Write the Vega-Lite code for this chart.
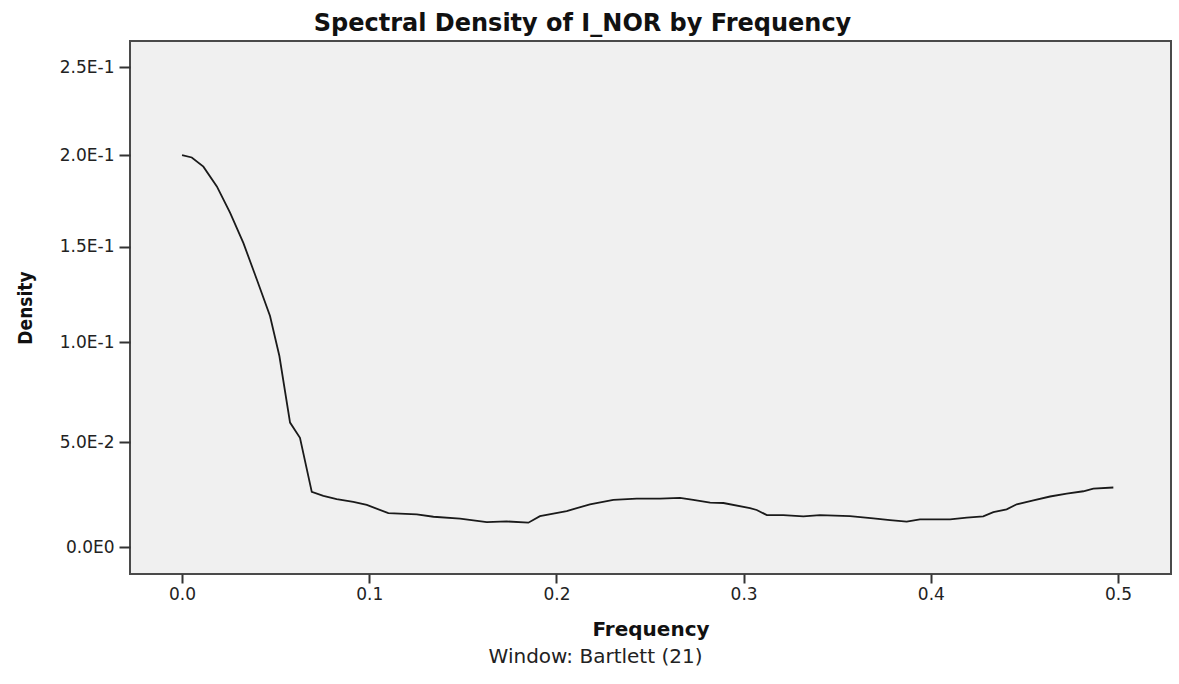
{
  "$schema": "https://vega.github.io/schema/vega-lite/v6.json",
  "width": 1041,
  "height": 533,
  "autosize": {"type": "none"},
  "padding": {"left": 130, "top": 41, "right": 8, "bottom": 110},
  "background": "white",
  "config": {
    "view": {"fill": "#f0f0f0", "stroke": "#4a4a4a", "strokeWidth": 2}
  },
  "title": {
    "text": "Window: Bartlett (21)",
    "orient": "bottom",
    "anchor": "middle",
    "font": "DejaVu Sans",
    "fontSize": 20,
    "fontWeight": "normal",
    "color": "#222222",
    "offset": 8,
    "dx": -55
  },
  "data": {
    "values": [
      {"frequency": 0.0000, "density": 0.2000},
      {"frequency": 0.0052, "density": 0.1987},
      {"frequency": 0.0114, "density": 0.1936},
      {"frequency": 0.0186, "density": 0.1827},
      {"frequency": 0.0257, "density": 0.1682},
      {"frequency": 0.0328, "density": 0.1519},
      {"frequency": 0.0399, "density": 0.1327},
      {"frequency": 0.0470, "density": 0.1135},
      {"frequency": 0.0520, "density": 0.0930},
      {"frequency": 0.0577, "density": 0.0597},
      {"frequency": 0.0630, "density": 0.0522},
      {"frequency": 0.0693, "density": 0.0261},
      {"frequency": 0.0755, "density": 0.0242},
      {"frequency": 0.0826, "density": 0.0226},
      {"frequency": 0.0915, "density": 0.0213},
      {"frequency": 0.0987, "density": 0.0199},
      {"frequency": 0.1102, "density": 0.0160},
      {"frequency": 0.1254, "density": 0.0154},
      {"frequency": 0.1343, "density": 0.0143},
      {"frequency": 0.1485, "density": 0.0134},
      {"frequency": 0.1628, "density": 0.0118},
      {"frequency": 0.1734, "density": 0.0121},
      {"frequency": 0.1850, "density": 0.0115},
      {"frequency": 0.1912, "density": 0.0146},
      {"frequency": 0.2055, "density": 0.0170},
      {"frequency": 0.2179, "density": 0.0202},
      {"frequency": 0.2304, "density": 0.0223},
      {"frequency": 0.2429, "density": 0.0229},
      {"frequency": 0.2553, "density": 0.0229},
      {"frequency": 0.2660, "density": 0.0232},
      {"frequency": 0.2731, "density": 0.0223},
      {"frequency": 0.2821, "density": 0.0210},
      {"frequency": 0.2892, "density": 0.0208},
      {"frequency": 0.3034, "density": 0.0184},
      {"frequency": 0.3070, "density": 0.0175},
      {"frequency": 0.3124, "density": 0.0151},
      {"frequency": 0.3212, "density": 0.0151},
      {"frequency": 0.3319, "density": 0.0145},
      {"frequency": 0.3408, "density": 0.0151},
      {"frequency": 0.3568, "density": 0.0146},
      {"frequency": 0.3693, "density": 0.0135},
      {"frequency": 0.3782, "density": 0.0127},
      {"frequency": 0.3871, "density": 0.0120},
      {"frequency": 0.3942, "density": 0.0131},
      {"frequency": 0.4103, "density": 0.0131},
      {"frequency": 0.4192, "density": 0.0139},
      {"frequency": 0.4280, "density": 0.0145},
      {"frequency": 0.4334, "density": 0.0165},
      {"frequency": 0.4405, "density": 0.0178},
      {"frequency": 0.4459, "density": 0.0202},
      {"frequency": 0.4548, "density": 0.0221},
      {"frequency": 0.4637, "density": 0.0239},
      {"frequency": 0.4726, "density": 0.0253},
      {"frequency": 0.4815, "density": 0.0264},
      {"frequency": 0.4868, "density": 0.0277},
      {"frequency": 0.4975, "density": 0.0282}
    ]
  },
  "layer": [
    {
      "mark": {"type": "line", "color": "#1a1a1a", "strokeWidth": 1.8},
      "encoding": {
        "x": {
          "field": "frequency",
          "type": "quantitative",
          "scale": {"domain": [-0.0278, 0.5283], "nice": false, "zero": false},
          "axis": {
            "orient": "bottom",
            "values": [0, 0.1, 0.2, 0.3, 0.4, 0.5],
            "format": ".1f",
            "domain": false,
            "grid": false,
            "tickSize": 9,
            "tickWidth": 2,
            "tickColor": "#333333",
            "labelPadding": 3,
            "labelFont": "DejaVu Sans",
            "labelFontSize": 17,
            "labelColor": "#222222",
            "title": "Frequency",
            "titleFont": "DejaVu Sans",
            "titleFontSize": 20,
            "titleFontWeight": "bold",
            "titleColor": "#111111",
            "titlePadding": 17
          }
        },
        "y": {
          "field": "density",
          "type": "quantitative",
          "scale": {"type": "symlog", "constant": 1, "domain": [-0.01249, 0.2654], "nice": false, "zero": false},
          "axis": {
            "values": [0, 0.05, 0.1, 0.15, 0.2, 0.25],
            "labelExpr": "datum.value == 0 ? '0.0E0' : replace(format(datum.value, '.1e'), 'e', 'E')",
            "domain": false,
            "grid": false,
            "tickSize": 11,
            "tickWidth": 2,
            "tickColor": "#333333",
            "labelPadding": 5,
            "labelFont": "DejaVu Sans",
            "labelFontSize": 17,
            "labelColor": "#222222",
            "title": "Density",
            "titleFont": "DejaVu Sans Condensed, DejaVu Sans",
            "titleFontSize": 19,
            "titleFontWeight": "bold",
            "titleColor": "#111111",
            "titlePadding": 24
          }
        }
      }
    },
    {
      "mark": {"type": "line", "opacity": 0},
      "encoding": {
        "x": {
          "field": "frequency",
          "type": "quantitative",
          "axis": {
            "orient": "top",
            "labels": false,
            "ticks": false,
            "domain": false,
            "grid": false,
            "title": "Spectral Density of I_NOR by Frequency",
            "titleFont": "DejaVu Sans",
            "titleFontSize": 24,
            "titleFontWeight": "bold",
            "titleColor": "#111111",
            "titlePadding": 6,
            "titleX": 452
          }
        }
      }
    }
  ],
  "resolve": {"axis": {"x": "independent"}}
}
